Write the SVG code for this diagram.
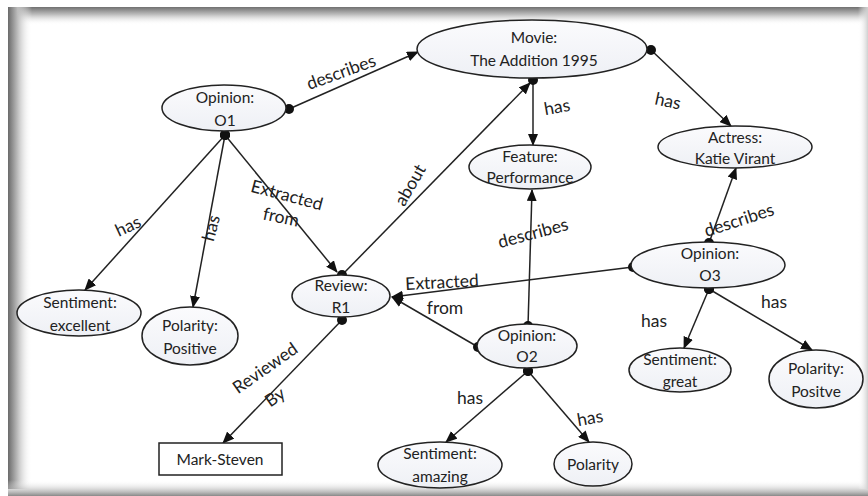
<svg xmlns="http://www.w3.org/2000/svg" width="868" height="496" viewBox="0 0 868 496">
<defs>
<linearGradient id="gTop" x1="0" y1="0" x2="0" y2="1"><stop offset="0" stop-color="#707070"/><stop offset="0.45" stop-color="#c4c4c4"/><stop offset="1" stop-color="#ffffff" stop-opacity="0"/></linearGradient>
<linearGradient id="gLeft" x1="0" y1="0" x2="1" y2="0"><stop offset="0" stop-color="#6a6a6a"/><stop offset="0.4" stop-color="#bdbdbd"/><stop offset="1" stop-color="#ffffff" stop-opacity="0"/></linearGradient>
<linearGradient id="gBot" x1="0" y1="0" x2="0" y2="1"><stop offset="0" stop-color="#ffffff" stop-opacity="0"/><stop offset="1" stop-color="#888888"/></linearGradient>
<linearGradient id="gRight" x1="0" y1="0" x2="1" y2="0"><stop offset="0" stop-color="#ffffff" stop-opacity="0"/><stop offset="1" stop-color="#d0d0d0"/></linearGradient>
<linearGradient id="gNode" x1="0" y1="0" x2="0" y2="1"><stop offset="0" stop-color="#fbfbfd"/><stop offset="1" stop-color="#eef0f5"/></linearGradient>
<marker id="arr" markerUnits="userSpaceOnUse" markerWidth="12" markerHeight="10" refX="11" refY="5" orient="auto" viewBox="0 0 12 10"><path d="M0,0 L12,5 L0,10 z" fill="#111"/></marker>
<marker id="dot" markerUnits="userSpaceOnUse" markerWidth="11" markerHeight="11" refX="5.5" refY="5.5" viewBox="0 0 11 11"><circle cx="5.5" cy="5.5" r="5" fill="#111"/></marker>
</defs>
<style>
.n ellipse{fill:url(#gNode);stroke:#222;stroke-width:1.5}
.n rect{fill:#fff;stroke:#222;stroke-width:1.5}
.n text{font-family:Lato,"Liberation Sans",sans-serif;font-size:15.5px;fill:#222;text-anchor:middle}
.c line{stroke:#222;stroke-width:1.5;marker-start:url(#dot);marker-end:url(#arr)}
.l text{font-family:Lato,"Liberation Sans",sans-serif;font-size:17.5px;fill:#222;text-anchor:middle}
</style>
<rect width="868" height="496" fill="#fff"/>
<rect x="8" y="7" width="860" height="18" fill="url(#gTop)"/>
<rect x="8" y="7" width="24" height="482" fill="url(#gLeft)"/>
<rect x="8" y="480" width="860" height="16" fill="url(#gBot)"/>
<rect x="858" y="7" width="10" height="482" fill="url(#gRight)"/>

<g class="c">
<line x1="289" y1="109" x2="418" y2="52"/>
<line x1="651" y1="50" x2="731" y2="126"/>
<line x1="533" y1="80" x2="533" y2="145"/>
<line x1="342" y1="275" x2="530" y2="83"/>
<line x1="225" y1="135" x2="337" y2="272"/>
<line x1="225" y1="135" x2="85" y2="290"/>
<line x1="225" y1="135" x2="193" y2="307"/>
<line x1="342" y1="320" x2="223" y2="443"/>
<line x1="633" y1="267" x2="392" y2="297"/>
<line x1="478" y1="347" x2="392" y2="297"/>
<line x1="528" y1="326" x2="532" y2="190"/>
<line x1="709" y1="243" x2="736" y2="168"/>
<line x1="709" y1="289" x2="684" y2="348"/>
<line x1="709" y1="289" x2="812" y2="350"/>
<line x1="528" y1="371" x2="446" y2="442"/>
<line x1="528" y1="371" x2="589" y2="442"/>
</g>

<g id="movie" class="n"><ellipse cx="532" cy="49" rx="115" ry="29"/><text x="534" y="43">Movie:</text><text x="534" y="66">The Addition 1995</text></g>
<g id="opinion-o1" class="n"><ellipse cx="224" cy="108" rx="62" ry="23"/><text x="225" y="103">Opinion:</text><text x="225" y="126">O1</text></g>
<g id="feature" class="n"><ellipse cx="530" cy="167" rx="61" ry="22"/><text x="530" y="162">Feature:</text><text x="530" y="183">Performance</text></g>
<g id="actress" class="n"><ellipse cx="735" cy="147" rx="77" ry="21"/><text x="735" y="143">Actress:</text><text x="735" y="164">Katie Virant</text></g>
<g id="opinion-o3" class="n"><ellipse cx="708" cy="265" rx="77" ry="23"/><text x="710" y="259">Opinion:</text><text x="710" y="281">O3</text></g>
<g id="opinion-o2" class="n"><ellipse cx="527" cy="346" rx="50" ry="22"/><text x="527" y="341">Opinion:</text><text x="527" y="362">O2</text></g>
<g id="review-r1" class="n"><ellipse cx="341" cy="296" rx="49" ry="21"/><text x="341" y="291">Review:</text><text x="341" y="313">R1</text></g>
<g id="sentiment-excellent" class="n"><ellipse cx="79" cy="313" rx="62" ry="23"/><text x="80" y="308">Sentiment:</text><text x="80" y="331">excellent</text></g>
<g id="polarity-positive" class="n"><ellipse cx="190" cy="336" rx="48" ry="29"/><text x="190" y="331">Polarity:</text><text x="190" y="354">Positive</text></g>
<g id="mark-steven" class="n"><rect x="159" y="443" width="123" height="32"/><text x="220" y="465">Mark-Steven</text></g>
<g id="sentiment-great" class="n"><ellipse cx="680" cy="370" rx="51" ry="22"/><text x="680" y="365">Sentiment:</text><text x="680" y="387">great</text></g>
<g id="polarity-positve" class="n"><ellipse cx="816" cy="379" rx="47" ry="29"/><text x="816" y="374">Polarity:</text><text x="816" y="397">Positve</text></g>
<g id="sentiment-amazing" class="n"><ellipse cx="440" cy="465" rx="62" ry="23"/><text x="440" y="459">Sentiment:</text><text x="440" y="482">amazing</text></g>
<g id="polarity" class="n"><ellipse cx="593" cy="464" rx="39" ry="22"/><text x="593" y="470">Polarity</text></g>

<g class="l">
<text transform="translate(341,72) rotate(-20)" dy="0.35em">describes</text>
<text transform="translate(668,101) rotate(12)" dy="0.35em">has</text>
<text transform="translate(557,107) rotate(-10)" dy="0.35em">has</text>
<text transform="translate(410,185) rotate(-60)" dy="0.35em">about</text>
<text transform="translate(287,195) rotate(15)" dy="0.35em">Extracted</text>
<text transform="translate(281,217) rotate(12)" dy="0.35em">from</text>
<text transform="translate(128,226) rotate(-25)" dy="0.35em">has</text>
<text transform="translate(211,228) rotate(-75)" dy="0.35em">has</text>
<text transform="translate(265,368) rotate(-35)" dy="0.35em">Reviewed</text>
<text transform="translate(275,397) rotate(-35)" dy="0.35em">By</text>
<text transform="translate(442,282) rotate(-3)" dy="0.35em">Extracted</text>
<text transform="translate(445,308)" dy="0.35em">from</text>
<text transform="translate(533,233) rotate(-15)" dy="0.35em">describes</text>
<text transform="translate(739,220) rotate(-18)" dy="0.35em">describes</text>
<text transform="translate(654,321)" dy="0.35em">has</text>
<text transform="translate(774,302)" dy="0.35em">has</text>
<text transform="translate(470,398)" dy="0.35em">has</text>
<text transform="translate(590,418) rotate(-10)" dy="0.35em">has</text>
</g>
</svg>
